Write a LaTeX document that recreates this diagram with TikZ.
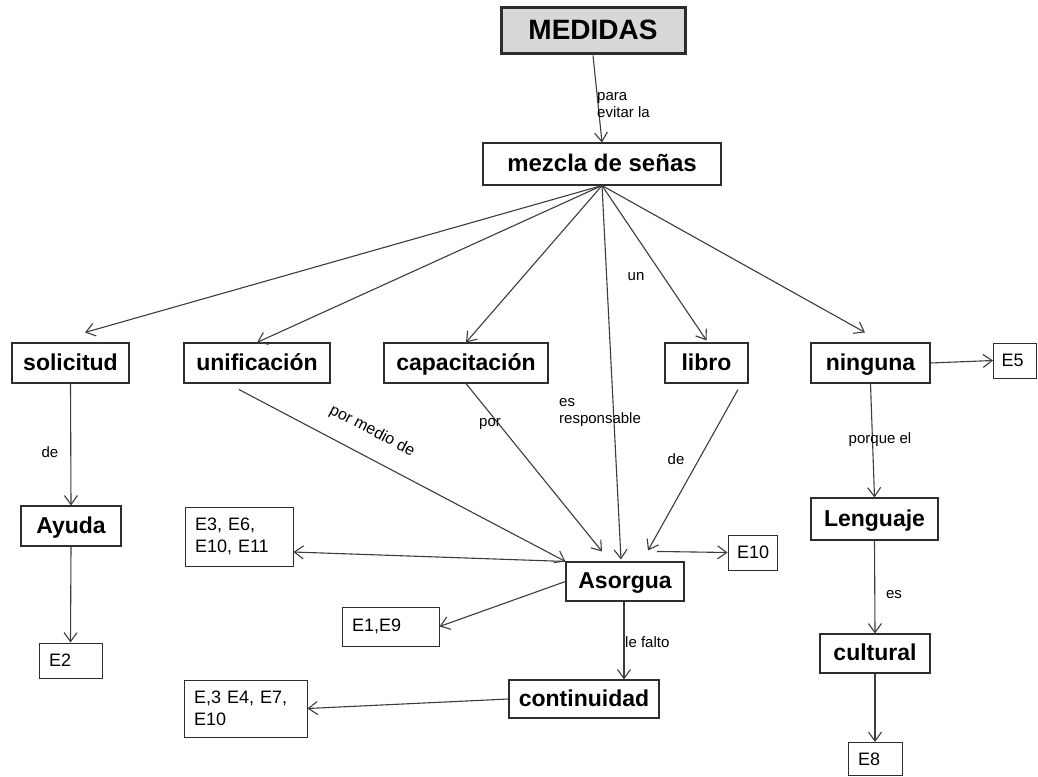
\documentclass[tikz,border=0pt]{standalone}
\usepackage{fontspec}
\setmainfont{Liberation Sans}
\usetikzlibrary{arrows.meta,calc}
\definecolor{ln}{RGB}{60,60,60}
\definecolor{bd}{RGB}{45,45,45}
\definecolor{medfill}{RGB}{216,216,216}
\begin{document}
\begin{tikzpicture}[x=1pt,y=-1pt,
  box/.style={draw=bd,line width=1.1pt,inner sep=0pt,text height=19pt,text depth=5pt,font=\fontsize{23}{27}\selectfont\bfseries},
  ebox/.style={draw=bd,line width=1pt,inner xsep=10pt,inner ysep=0pt,align=left,font=\fontsize{18}{22}\selectfont},
  arr/.style={draw=ln,line width=1.1pt,-{Straight Barb[length=9pt,width=13pt,line width=1.1pt]}},
  lab/.style={font=\fontsize{15}{17}\selectfont,inner sep=0pt}]
\useasboundingbox (0,0) rectangle (1038,776);
\fill[white] (0,0) rectangle (1038,776);
% nodes
\node[box,fill=medfill,line width=3pt,minimum width=184pt,minimum height=46pt,text height=21pt,text depth=3pt,font=\fontsize{28}{32}\selectfont\bfseries] (med) at (593,31) {MEDIDAS};
\node[box,minimum width=238pt,minimum height=42pt,font=\fontsize{24}{28}\selectfont\bfseries] (mez) at (602,164) {mezcla de señas};
\node[box,minimum width=117pt,minimum height=40pt] (sol) at (70.5,363) {solicitud};
\node[box,minimum width=146pt,minimum height=40pt] (uni) at (257,363) {unificación};
\node[box,minimum width=164pt,minimum height=40pt] (cap) at (466,363) {capacitación};
\node[box,minimum width=83pt,minimum height=40pt] (lib) at (706.5,363) {libro};
\node[box,minimum width=119pt,minimum height=40pt] (nin) at (870.5,363) {ninguna};
\node[ebox,inner xsep=8pt,text width=27pt,minimum height=35pt] (e5) at (1015,360.5) {E5};
\node[box,minimum width=100pt,minimum height=40pt] (ayu) at (71,526) {Ayuda};
\node[ebox,text width=43pt,minimum height=35pt] (e2) at (70.5,660.5) {E2};
\node[ebox,text width=88pt,minimum height=59pt] (e3) at (239,536.5) {E3, E6,\\E10, E11};
\node[box,minimum width=118pt,minimum height=39pt] (aso) at (625,581.5) {Asorgua};
\node[ebox,inner xsep=9pt,text width=31pt,minimum height=35pt] (e10) at (752.5,552.5) {E10};
\node[ebox,text width=77pt,minimum height=39pt] (e19) at (390.5,626.5) {E1,E9};
\node[box,minimum width=150pt,minimum height=38pt] (con) at (584,699) {continuidad};
\node[ebox,text width=103pt,minimum height=57pt] (e34) at (245.5,708.5) {E,3 E4, E7,\\E10};
\node[box,minimum width=127pt,minimum height=42pt] (len) at (874.5,519) {Lenguaje};
\node[box,minimum width=110pt,minimum height=39pt] (cul) at (875,653.5) {cultural};
\node[ebox,text width=34pt,minimum height=33pt] (e8) at (875,759) {E8};
% connectors
\draw[arr] (med.south) -- (mez.north);
\draw[arr] (mez.south) -- ($(sol.north)+(14.5,-10)$);
\draw[arr] (mez.south) -- (uni.north);
\draw[arr] (mez.south) -- (cap.north);
\draw[arr] (mez.south) -- ($(aso.north)+(-4,-2)$);
\draw[arr] (mez.south) -- ($(lib.north)+(0,-2)$);
\draw[arr] (mez.south) -- ($(nin.north)+(-5.5,-10)$);
\draw[arr] ($(uni.south)+(-18,6)$) -- (aso.north west);
\draw[arr] (cap.south) -- ($(aso.north)+(-23,-10)$);
\draw[arr] ($(lib.south)+(31.5,6)$) -- ($(aso.north)+(23,-11)$);
\draw[arr] ($(aso.north)+(32,-10)$) -- (e10.west);
\draw[arr] (aso.north west) -- ($(e3.east)+(0,15.5)$);
\draw[arr] (aso.west) -- (e19.east);
\draw[arr] ($(aso.south)+(-1,0)$) -- ($(con.north)+(40,0)$);
\draw[arr] (con.west) -- (e34.east);
\draw[arr] (nin.east) -- (e5.west);
\draw[arr] (nin.south) -- (len.north);
\draw[arr] (len.south) -- (cul.north);
\draw[arr] (cul.south) -- (e8.north);
\draw[arr] (sol.south) -- (ayu.north);
\draw[arr] (ayu.south) -- (e2.north);
% labels
\node[lab,anchor=west,align=left] (l1) at (597,105.5) {para\\evitar la};
\node[lab] (l2) at (636,277) {un};
\node[lab] (l3) at (50,452) {de};
\node[lab,rotate=-27.6,font=\fontsize{16}{19}\selectfont] (l4) at (372,431) {por medio de};
\node[lab] (l5) at (490,424) {por};
\node[lab,anchor=west,align=left] (l6) at (559,412.5) {es\\responsable};
\node[lab] (l7) at (676,459) {de};
\node[lab] (l8) at (880,440) {porque el};
\node[lab] (l9) at (894,595) {es};
\node[lab,anchor=west] (l10) at (625,642) {le falto};
\end{tikzpicture}
\end{document}
